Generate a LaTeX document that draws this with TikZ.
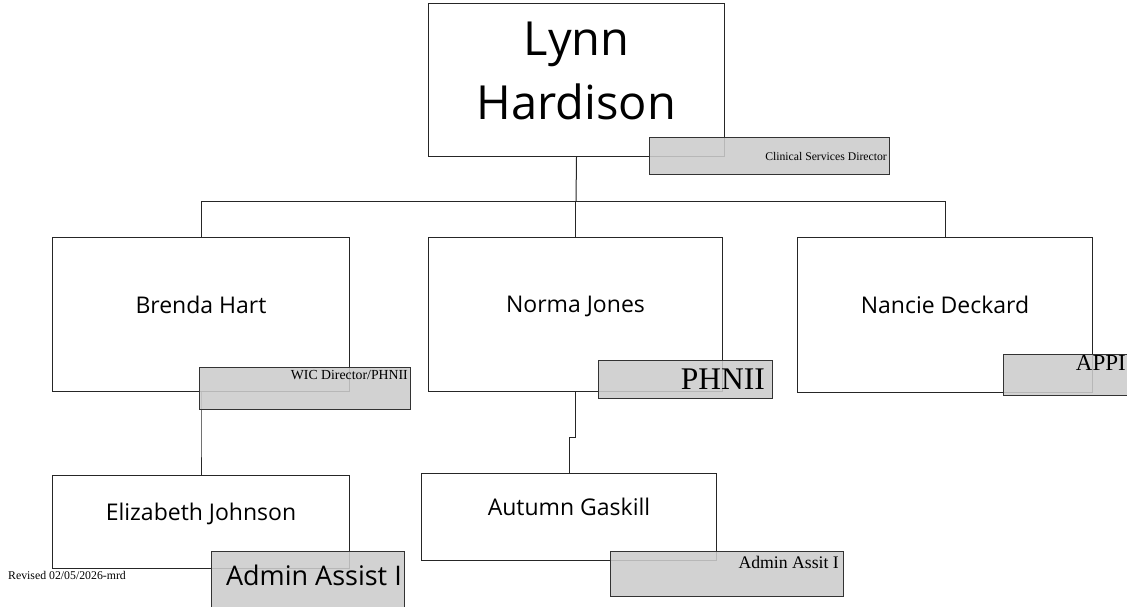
\documentclass[tikz,border=0pt]{standalone}
\usepackage{fontspec}
\setmainfont{Liberation Serif}
\newfontfamily\namefont{Open Sans}
\begin{document}
\begin{tikzpicture}[x=1pt,y=-1pt,
        person/.style={draw=black!85, line width=1pt, fill=white, anchor=north west, inner sep=0pt,
            font=\namefont\fontsize{23}{28}\selectfont, text depth=20pt},
        tag/.style={draw=black!80, line width=1pt, fill=black!20, fill opacity=0.88, anchor=north west, inner sep=0pt},
        tagtext/.style={anchor=north east, inner sep=3pt, text opacity=1, fill opacity=1},
        link/.style={draw=black!85, line width=1pt}]
        \useasboundingbox (0,0) rectangle (1127,607);
        \clip (0,0) rectangle (1127,607);
        \node[person, minimum width=296, minimum height=153, align=center,
            font=\namefont\fontsize{47}{64}\selectfont, text depth=18.6pt] (lynn) at (428,3) {Lynn\\Hardison};
        \node[person, minimum width=297, minimum height=154] (brenda) at (52,237) {Brenda Hart};
        \node[person, minimum width=294, minimum height=154] (norma) at (428,237) {Norma Jones};
        \node[person, minimum width=295, minimum height=155] (nancie) at (797,237) {Nancie Deckard};
        \node[person, minimum width=297, minimum height=93] (eliz) at (52,475) {Elizabeth Johnson};
        \node[person, minimum width=295, minimum height=87] (autumn) at (421,473) {Autumn Gaskill};
        \coordinate (bus) at (576,201);
        \draw[link] (lynn.south) -- (bus);
        \draw[link] (bus) -| (brenda.north);
        \draw[link] (bus) -| (norma.north);
        \draw[link] (bus) -| (nancie.north);
        \draw[link] (brenda.south) -- ++(0,48) -| (eliz.north);
        \draw[link] (norma.south) -- ++(0,45) -| (autumn.north);
        \node[tag, minimum width=240, minimum height=37,
            label={[tagtext, anchor=east, font=\fontsize{11.7}{14}\selectfont]east:Clinical Services Director}] (lynntag) at (649,137) {};
        \node[tag, minimum width=211, minimum height=42,
            label={[tagtext, inner ysep=3.5pt, font=\fontsize{13.8}{16}\selectfont]north east:WIC Director/PHNII}] (brendatag) at (199,367) {};
        \node[tag, minimum width=174, minimum height=38,
            label={[tagtext, anchor=east, inner xsep=8pt, font=\fontsize{31.5}{36}\selectfont]east:PHNII}] (normatag) at (598,360) {};
        \node[tag, minimum width=127, minimum height=41,
            label={[tagtext, inner ysep=1.5pt, inner xsep=5pt, font=\fontsize{23}{27}\selectfont]north east:APPI}] (nancietag) at (1003,354) {};
        \node[tag, minimum width=193, minimum height=60,
            label={[tagtext, inner ysep=14pt, font=\namefont\fontsize{27}{32}\selectfont]north east:Admin Assist I}] (eliztag) at (211,551) {};
        \node[tag, minimum width=233, minimum height=45,
            label={[tagtext, inner sep=5pt, font=\fontsize{17.7}{21}\selectfont]north east:Admin Assit I}] (autumntag) at (610,551) {};
        \node[anchor=base west, inner sep=0pt, font=\fontsize{11.8}{14}\selectfont] (revised) at (8,579) {Revised 02/05/2026-mrd};
    \end{tikzpicture}
\end{document}
